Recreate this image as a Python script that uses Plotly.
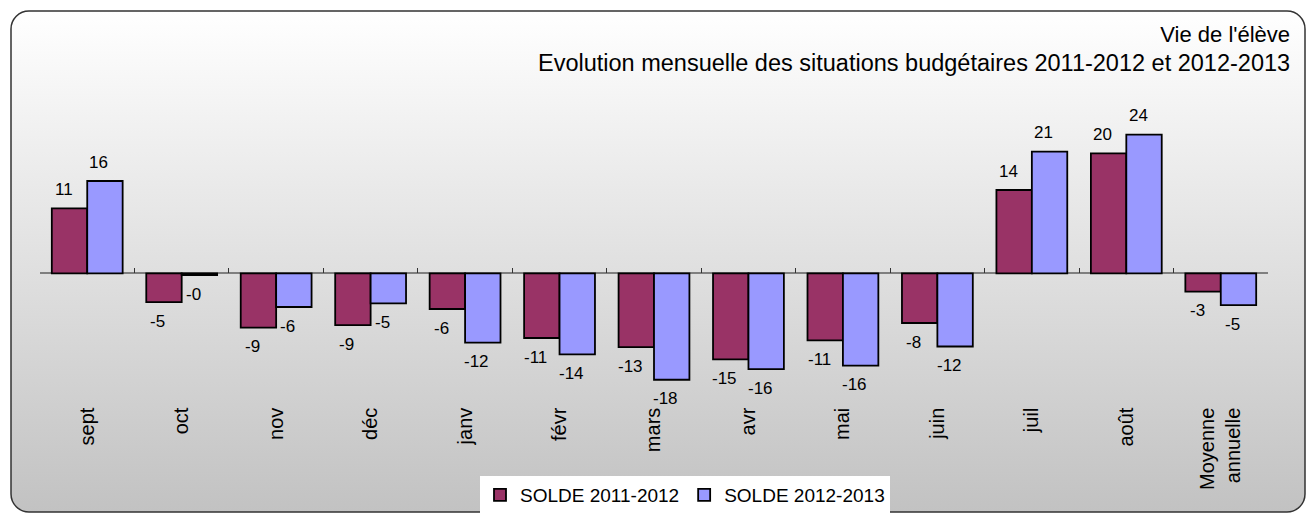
import base64
import plotly.graph_objects as go

# data
mois = ["sept", "oct", "nov", "déc", "janv", "févr", "mars", "avr", "mai", "juin",
        "juil", "août", "Moyenne<br>annuelle"]
solde_2011_2012 = [11.05, -4.9, -9.25, -8.8, -6.07, -11.0, -12.55, -14.63, -11.4, -8.45,
                   14.17, 20.4, -3.1]
solde_2012_2013 = [15.7, -0.3, -5.73, -5.1, -11.8, -13.78, -18.1, -16.28, -15.7, -12.45,
                   20.7, 23.6, -5.4]
noms = ["SOLDE 2011-2012", "SOLDE 2012-2013"]
couleurs = ["#993366", "#9999FF"]

W, H = 1308, 515
POLICE = "Liberation Sans, Arial, sans-serif"

# plot area geometry
x_dom = [40 / W, 1268 / W]
y_range = [-22, 30]
y_dom = [0.2181, 0.8118]
bargap = 0.25

# background: rounded box with vertical grey gradient
svg = ('<svg xmlns="http://www.w3.org/2000/svg" width="1296" height="503" '
       'viewBox="0 0 1296 503" preserveAspectRatio="none"><defs>'
       '<linearGradient id="g" x1="0" y1="0" x2="0" y2="1">'
       '<stop offset="0" stop-color="#ffffff"/><stop offset="1" stop-color="#c2c2c2"/>'
       '</linearGradient></defs>'
       '<rect x="1" y="1" width="1294" height="501" rx="18" ry="18" fill="url(#g)" '
       'stroke="#333333" stroke-width="1.5"/></svg>')
fond = "data:image/svg+xml;base64," + base64.b64encode(svg.encode()).decode()

fig = go.Figure()
for nom, vals, col in zip(noms, [solde_2011_2012, solde_2012_2013], couleurs):
    fig.add_trace(go.Bar(x=mois, y=vals, name=nom, marker_color=col,
                         marker_line=dict(color="black", width=1.8)))

# invisible trace so the baseline axis has categories
fig.add_trace(go.Bar(x=mois, y=[0] * len(mois), xaxis="x2", showlegend=False,
                     hoverinfo="skip", marker_color="rgba(0,0,0,0)", marker_line_width=0))

# data labels
cat_w = (x_dom[1] - x_dom[0]) * W / len(mois)
bar_w = cat_w * (1 - bargap) / 2
for k, vals in enumerate([solde_2011_2012, solde_2012_2013]):
    dx = (-bar_w / 2 if k == 0 else bar_w / 2) - 6
    for m, v in zip(mois, vals):
        fig.add_annotation(x=m, y=v, text=f"{v:.0f}", showarrow=False,
                           xshift=dx, yshift=19 if v >= 0 else -19,
                           font=dict(size=17, color="black", family=POLICE))

# title, right aligned
fig.add_annotation(xref="paper", yref="paper", x=1292 / W, y=1 - 20 / H,
                   xanchor="right", yanchor="top", align="right", showarrow=False,
                   text="Vie de l'élève<br><span style='font-size:23.5px'>Evolution mensuelle des situations budgétaires 2011-2012 et 2012-2013</span>",
                   font=dict(size=22, color="black", family=POLICE))

zero_pos = y_dom[0] + (0 - y_range[0]) / (y_range[1] - y_range[0]) * (y_dom[1] - y_dom[0])

fig.update_layout(
    width=W, height=H,
    margin=dict(l=0, r=0, t=0, b=0),
    paper_bgcolor="white",
    plot_bgcolor="rgba(0,0,0,0)",
    barmode="group", bargap=bargap, bargroupgap=0,
    font=dict(family=POLICE, color="black"),
    xaxis=dict(domain=x_dom, type="category", categoryorder="array", categoryarray=mois,
               range=[-0.5, len(mois) - 0.5], tickangle=-90, ticks="", showline=False,
               showgrid=False, tickfont=dict(size=20, color="black")),
    xaxis2=dict(overlaying="x", matches="x", anchor="free", position=zero_pos,
                type="category", categoryorder="array", categoryarray=mois,
                showline=True, linecolor="#7f7f7f", linewidth=1.5, layer="below traces",
                ticks="inside", tickson="boundaries", ticklen=5, tickcolor="#333333",
                tickwidth=1, showticklabels=False, showgrid=False),
    yaxis=dict(domain=y_dom, range=y_range, visible=False, showgrid=False, zeroline=False),
    legend=dict(orientation="h", x=685 / W, xanchor="center", y=1 - 476 / H, yanchor="top",
                bgcolor="white", font=dict(size=19, color="black"),
                itemwidth=30, traceorder="normal"),
    images=[dict(source=fond, xref="paper", yref="paper", x=10 / W, y=1 - 10 / H,
                 sizex=1296 / W, sizey=503 / H, xanchor="left", yanchor="top",
                 sizing="stretch", layer="below")],
)

fig.write_html("out.html", config={"displayModeBar": False},
               post_script="document.body.style.margin='0';")
